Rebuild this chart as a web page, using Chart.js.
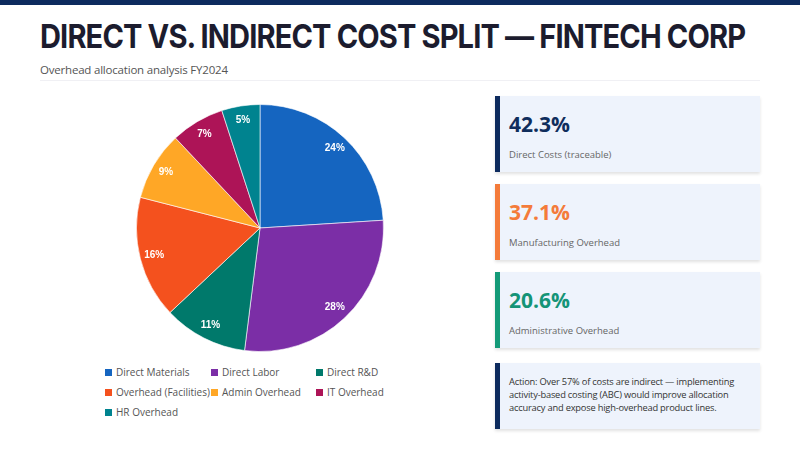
<!DOCTYPE html>
<html>
<head>
<meta charset="utf-8">
<script src="https://cdn.jsdelivr.net/npm/chart.js@4.4.1/dist/chart.umd.min.js"></script>
<style>
    body { margin: 0; width: 800px; height: 450px; background: #ffffff; font-family: "Open Sans", sans-serif; overflow: hidden; position: relative; }
    #barra { position: absolute; left: 0; top: 0; width: 800px; height: 5px; background: #0d2b5e; }
    #titulo { position: absolute; left: 40px; top: 16px; font-family: Inter, sans-serif; font-weight: 700; font-size: 33px; letter-spacing: -1px; color: #1c1c2e; white-space: nowrap; transform-origin: left top; }
    #subtitulo { position: absolute; left: 40px; top: 62px; font-size: 11.5px; color: #555; letter-spacing: -0.2px; }
    #linha { position: absolute; left: 40px; top: 80px; width: 720px; height: 1px; background: #f0f0f4; }
    #area-grafico { position: absolute; left: 40px; top: 104px; width: 440px; height: 248px; }
    #legenda { position: absolute; left: 105px; top: 365px; display: grid; grid-template-columns: 106px 105px 106px; row-gap: 6px; font-size: 10px; color: #555; }
    #legenda div { white-space: nowrap; display: flex; align-items: center; height: 14px; }
    #legenda span { display: inline-block; width: 7px; height: 7px; margin-right: 4px; }
    .card { position: absolute; left: 495px; width: 265px; background: #eef3fc; box-shadow: 0 2px 3px rgba(0,0,0,0.12); box-sizing: border-box; border-left: 5px solid; padding-left: 9px; }
    .card .valor { font-size: 21px; font-weight: 700; margin-top: 16px; line-height: 24px; }
    .card .rotulo { font-size: 9.5px; color: #666; margin-top: 12px; }
    #acao { position: absolute; left: 495px; top: 363px; width: 265px; height: 66px; background: #eef3fc; box-shadow: 0 2px 3px rgba(0,0,0,0.12); box-sizing: border-box; border-left: 5px solid #0d2b5e; padding: 12px 8px 0 9px; font-size: 9.3px; line-height: 13px; color: #333; letter-spacing: -0.2px; }
</style>
</head>
<body>
<div id="barra"></div>
<div id="titulo">DIRECT VS. INDIRECT COST SPLIT — FINTECH CORP</div>
<div id="subtitulo">Overhead allocation analysis FY2024</div>
<div id="linha"></div>

<div id="area-grafico"><canvas id="graficoCustos"></canvas></div>
<div id="legenda"></div>

<div class="card" style="top: 96px; height: 76px; border-color: #0d2b5e;">
    <div class="valor" style="color: #0f2d5c;">42.3%</div>
    <div class="rotulo">Direct Costs (traceable)</div>
</div>
<div class="card" style="top: 184px; height: 76px; border-color: #f47b3a;">
    <div class="valor" style="color: #f47b3a;">37.1%</div>
    <div class="rotulo">Manufacturing Overhead</div>
</div>
<div class="card" style="top: 272px; height: 76px; border-color: #149a78;">
    <div class="valor" style="color: #149477;">20.6%</div>
    <div class="rotulo">Administrative Overhead</div>
</div>
<div id="acao">Action: Over 57% of costs are indirect — implementing activity-based costing (ABC) would improve allocation accuracy and expose high-overhead product lines.</div>

<script>
// dados do gráfico
const categorias = ["Direct Materials", "Direct Labor", "Direct R&D", "Overhead (Facilities)", "Admin Overhead", "IT Overhead", "HR Overhead"];
const valores = [24, 28, 11, 16, 9, 7, 5];
const cores = ["#1565c0", "#7b2ea6", "#00796b", "#f4511e", "#ffa726", "#ad1457", "#00838f"];

// título condensado para caber na largura do original
const titulo = document.getElementById('titulo');
titulo.style.transform = 'scaleX(' + (705 / titulo.offsetWidth) + ')';

// legenda em html (grade de 3 colunas)
const legenda = document.getElementById('legenda');
categorias.forEach(function (nome, i) {
    const item = document.createElement('div');
    item.innerHTML = '<span style="background:' + cores[i] + '"></span>' + nome;
    legenda.appendChild(item);
});

// rótulos de porcentagem perto da borda de cada fatia
const rotulosFatias = {
    id: 'rotulosFatias',
    afterDatasetsDraw(chart) {
        const ctx = chart.ctx;
        const meta = chart.getDatasetMeta(0);
        const total = valores.reduce((a, b) => a + b, 0);
        ctx.save();
        ctx.font = 'bold 10px "Liberation Sans", Arial, sans-serif';
        ctx.fillStyle = '#ffffff';
        ctx.textAlign = 'center';
        ctx.textBaseline = 'middle';
        meta.data.forEach(function (arco, i) {
            const p = arco.getProps(['x', 'y', 'startAngle', 'endAngle', 'outerRadius'], true);
            const ang = (p.startAngle + p.endAngle) / 2;
            const r = p.outerRadius * 0.885;
            const pct = Math.round(valores[i] / total * 100) + '%';
            ctx.fillText(pct, p.x + Math.cos(ang) * r, p.y + Math.sin(ang) * r);
        });
        ctx.restore();
    }
};

const ctx = document.getElementById('graficoCustos').getContext('2d');
window.meuGrafico = new Chart(ctx, {
    type: 'pie',
    data: {
        labels: categorias,
        datasets: [{
            data: valores,
            backgroundColor: cores,
            borderColor: 'rgba(255,255,255,0.6)',
            borderWidth: 1
        }]
    },
    options: {
        responsive: true,
        maintainAspectRatio: false,
        animation: false,
        plugins: {
            legend: { display: false },
            tooltip: { enabled: false }
        }
    },
    plugins: [rotulosFatias]
});
</script>
</body>
</html>
